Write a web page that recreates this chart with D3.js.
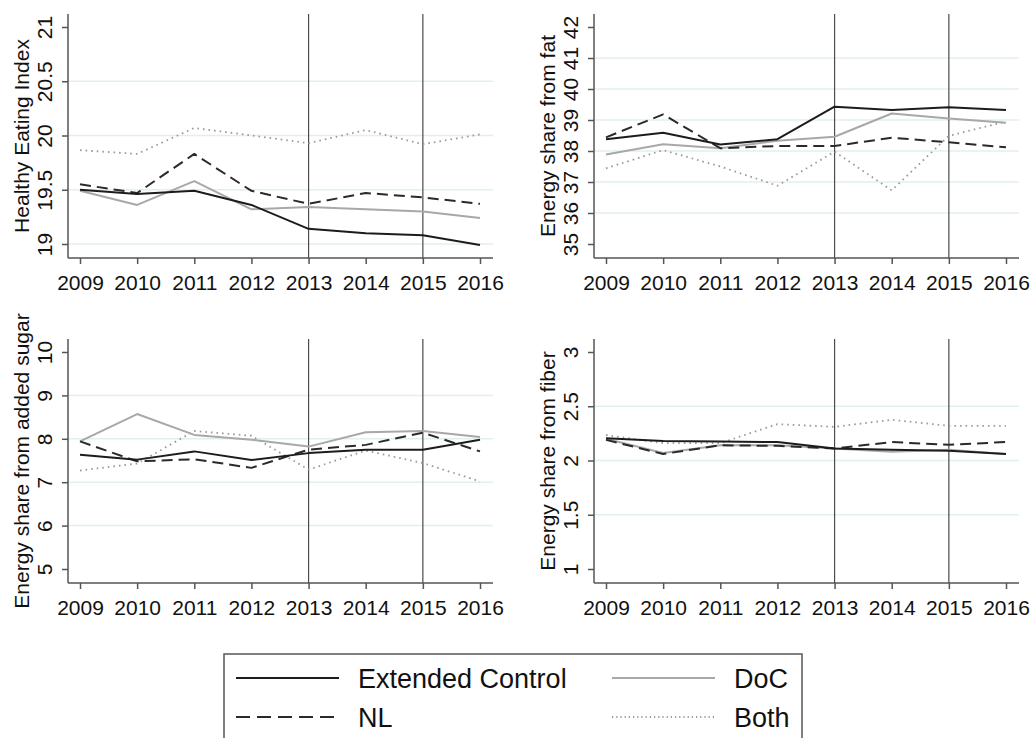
<!DOCTYPE html>
<html>
<head>
<meta charset="utf-8">
<script src="https://cdn.jsdelivr.net/npm/d3@7"></script>
<style>
  body { margin: 0; background: #fff; }
  text { font-family: "Liberation Sans", Arial, sans-serif; }
</style>
</head>
<body>
<div id="chart"></div>
<script>
// data
const years = [2009, 2010, 2011, 2012, 2013, 2014, 2015, 2016];
const refYears = [2013, 2015];
const seriesNames = ["Extended Control", "NL", "DoC", "Both"];

const heiExt  = [19.50, 19.46, 19.49, 19.36, 19.14, 19.10, 19.08, 18.99];
const heiNl   = [19.55, 19.47, 19.83, 19.49, 19.37, 19.47, 19.43, 19.37];
const heiDoc  = [19.49, 19.36, 19.58, 19.32, 19.34, 19.32, 19.30, 19.24];
const heiBoth = [19.865, 19.83, 20.07, 20.00, 19.93, 20.05, 19.92, 20.01];

const fatExt  = [38.38, 38.59, 38.21, 38.38, 39.43, 39.32, 39.41, 39.32];
const fatNl   = [38.44, 39.18, 38.09, 38.16, 38.16, 38.43, 38.28, 38.12];
const fatDoc  = [37.89, 38.22, 38.09, 38.33, 38.46, 39.21, 39.05, 38.91];
const fatBoth = [37.44, 38.03, 37.50, 36.88, 37.98, 36.73, 38.49, 38.95];

const sugarExt  = [7.63, 7.52, 7.71, 7.51, 7.67, 7.75, 7.75, 7.98];
const sugarNl   = [7.94, 7.48, 7.53, 7.33, 7.75, 7.86, 8.14, 7.71];
const sugarDoc  = [7.94, 8.57, 8.09, 7.98, 7.82, 8.15, 8.18, 8.04];
const sugarBoth = [7.27, 7.43, 8.18, 8.07, 7.29, 7.73, 7.44, 7.02];

const fiberExt  = [2.205, 2.18, 2.175, 2.17, 2.11, 2.10, 2.09, 2.06];
const fiberNl   = [2.19, 2.06, 2.14, 2.135, 2.11, 2.17, 2.145, 2.17];
const fiberDoc  = [2.20, 2.07, 2.14, 2.14, 2.11, 2.08, 2.10, 2.06];
const fiberBoth = [2.235, 2.16, 2.16, 2.335, 2.31, 2.375, 2.32, 2.32];

const heiTicks   = [19, 19.5, 20, 20.5, 21];
const fatTicks   = [35, 36, 37, 38, 39, 40, 41, 42];
const sugarTicks = [5, 6, 7, 8, 9, 10];
const fiberTicks = [1, 1.5, 2, 2.5, 3];

const heiGrid   = [19, 19.5, 20, 20.5];
const fatGrid   = [36, 37, 38, 39, 40, 41];
const sugarGrid = [6, 7, 8, 9];
const fiberGrid = [1.5, 2, 2.5];

const W = 1033, H = 738;
const plotW = 425, plotH = 244;

const svg = d3.select("#chart").append("svg")
  .attr("width", W)
  .attr("height", H);

const panels = [
  { title: "Healthy Eating Index", left: 68, top: 14, ticks: heiTicks, grid: heiGrid,
    values: [heiExt, heiNl, heiDoc, heiBoth] },
  { title: "Energy share from fat", left: 594, top: 14, ticks: fatTicks, grid: fatGrid,
    values: [fatExt, fatNl, fatDoc, fatBoth] },
  { title: "Energy share from added sugar", left: 68, top: 339, ticks: sugarTicks, grid: sugarGrid,
    values: [sugarExt, sugarNl, sugarDoc, sugarBoth] },
  { title: "Energy share from fiber", left: 594, top: 339, ticks: fiberTicks, grid: fiberGrid,
    values: [fiberExt, fiberNl, fiberDoc, fiberBoth] }
];

const styles = {
  "Extended Control": { stroke: "#1c1c1c", width: 2, dash: null },
  "NL":   { stroke: "#2a2a2a", width: 2, dash: "11,6" },
  "DoC":  { stroke: "#a8a8a8", width: 2, dash: null },
  "Both": { stroke: "#9a9a9a", width: 1.8, dash: "1.6,4" }
};
const drawOrder = ["Both", "DoC", "NL", "Extended Control"];

const x = d3.scaleLinear()
  .domain([years[0], years[years.length - 1]])
  .range([12, plotW - 13]);

panels.forEach(function (p) {
  const g = svg.append("g").attr("transform", `translate(${p.left},${p.top})`);

  const y = d3.scaleLinear()
    .domain([p.ticks[0], p.ticks[p.ticks.length - 1]])
    .range([plotH - 14, 13]);

  // grid
  g.selectAll(".grid")
    .data(p.grid)
    .join("line")
    .attr("x1", 0).attr("x2", plotW)
    .attr("y1", d => y(d)).attr("y2", d => y(d))
    .attr("stroke", "#e2efef")
    .attr("stroke-width", 1.5);

  // reference lines
  g.selectAll(".ref")
    .data(refYears)
    .join("line")
    .attr("x1", d => x(d)).attr("x2", d => x(d))
    .attr("y1", 0).attr("y2", plotH)
    .attr("stroke", "#4a4a4a")
    .attr("stroke-width", 1.2);

  // series
  const line = d3.line()
    .x((d, i) => x(years[i]))
    .y(d => y(d));

  drawOrder.forEach(function (name) {
    const st = styles[name];
    g.append("path")
      .datum(p.values[seriesNames.indexOf(name)])
      .attr("d", line)
      .attr("fill", "none")
      .attr("stroke", st.stroke)
      .attr("stroke-width", st.width)
      .attr("stroke-dasharray", st.dash)
      .attr("stroke-linejoin", "round");
  });

  // x axis
  const xa = g.append("g")
    .attr("transform", `translate(0,${plotH})`)
    .call(d3.axisBottom(x).tickValues(years).tickFormat(d3.format("d")).tickSize(6).tickPadding(11))
    .attr("font-size", 21)
    .attr("font-family", null);
  xa.select(".domain").remove();
  xa.selectAll("line").attr("stroke", "#555").attr("stroke-width", 1.5);
  xa.selectAll("text").attr("fill", "#111");

  // y axis
  const ya = g.append("g")
    .call(d3.axisLeft(y).tickValues(p.ticks).tickFormat(d => String(d)).tickSize(6))
    .attr("font-size", 21)
    .attr("font-family", null);
  ya.select(".domain").remove();
  ya.selectAll("line").attr("stroke", "#555").attr("stroke-width", 1.5);
  ya.selectAll("text")
    .attr("fill", "#111")
    .attr("x", null)
    .attr("dy", null)
    .attr("text-anchor", "middle")
    .attr("transform", "translate(-16,0) rotate(-90)");

  // axis lines
  g.append("line")
    .attr("x1", 0).attr("x2", 0).attr("y1", 0).attr("y2", plotH)
    .attr("stroke", "#555").attr("stroke-width", 1.5);
  g.append("line")
    .attr("x1", 0).attr("x2", plotW).attr("y1", plotH).attr("y2", plotH)
    .attr("stroke", "#555").attr("stroke-width", 1.5);

  // y title
  g.append("text")
    .attr("transform", `translate(-39,${plotH / 2}) rotate(-90)`)
    .attr("text-anchor", "middle")
    .attr("font-size", 21)
    .attr("fill", "#111")
    .text(p.title);
});

// legend
const legend = svg.append("g");
legend.append("rect")
  .attr("x", 224).attr("y", 654)
  .attr("width", 578).attr("height", 120)
  .attr("fill", "none")
  .attr("stroke", "#555")
  .attr("stroke-width", 1.5);

const legendPos = {
  "Extended Control": { col: 0, row: 0 },
  "DoC": { col: 1, row: 0 },
  "NL": { col: 0, row: 1 },
  "Both": { col: 1, row: 1 }
};
const colX = [236, 612];
const rowY = [678, 717];

seriesNames.forEach(function (name) {
  const st = styles[name];
  const pos = legendPos[name];
  const lx = colX[pos.col], ly = rowY[pos.row];
  legend.append("line")
    .attr("x1", lx).attr("x2", lx + 103)
    .attr("y1", ly).attr("y2", ly)
    .attr("stroke", st.stroke)
    .attr("stroke-width", st.width)
    .attr("stroke-dasharray", name === "Both" ? "1.2,3" : name === "NL" ? "14,7" : null);
  legend.append("text")
    .attr("x", lx + 122)
    .attr("y", ly + 10)
    .attr("font-size", 27)
    .attr("fill", "#111")
    .text(name);
});
</script>
</body>
</html>
